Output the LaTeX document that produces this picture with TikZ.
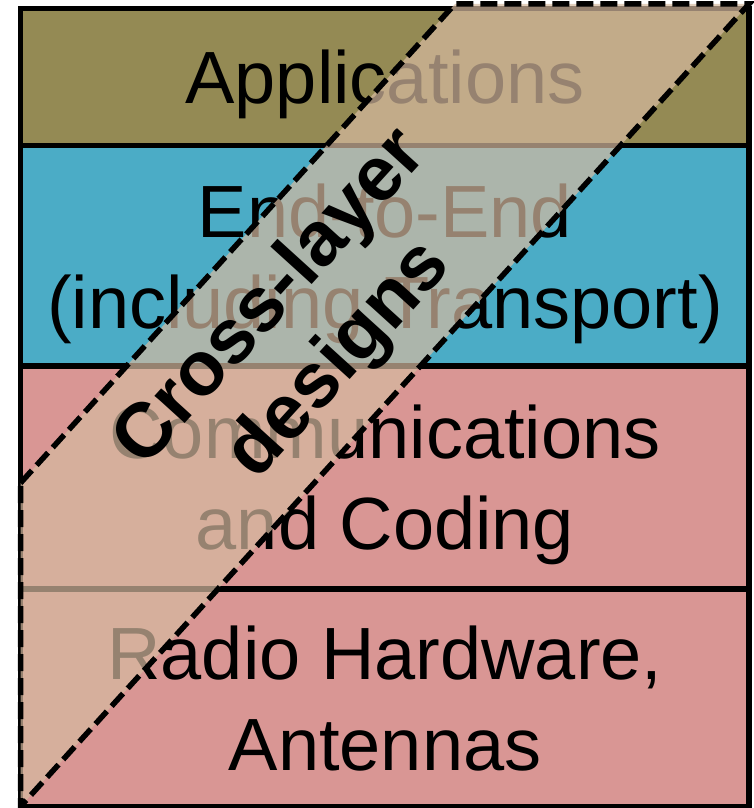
\documentclass[tikz,border=0pt]{standalone}
\usepackage{fontspec}
\setmainfont{Liberation Sans}
\usepackage{xcolor}
\definecolor{Olive Layer}{HTML}{948A54}
\colorlet{cOlive}{Olive Layer}
\definecolor{Sky Layer}{HTML}{4BACC6}
\colorlet{cBlue}{Sky Layer}
\definecolor{Rose Layer}{HTML}{D99694}
\colorlet{cRose}{Rose Layer}
\definecolor{Tan Band}{HTML}{D6BAA0}
\colorlet{cTan}{Tan Band}
\usepackage{tikz}
\usetikzlibrary{positioning}
\tikzset{
	layer/.style={
		fill=#1
	},
	frame/.style={
		draw,
		line width=5.5pt
	},
	layertext/.style={
		anchor=base,
		inner sep=0pt,
		font=\fontsize{74}{91}\selectfont
	},
	band/.style={
		fill=cTan,
		fill opacity=.7
	},
	bandedge/.style={
		draw,
		line width=5.5pt,
		dash pattern=on 17pt off 7pt
	},
	bandtext/.style={
		align=center,
		rotate=47.74,
		inner sep=0pt,
		font=\bfseries\fontsize{77}{92}\selectfont
	}
}

\begin{document}
\begin{tikzpicture}[x=1pt, y=-1pt]
        \useasboundingbox (0,0) rectangle (753,808);
        % the four layers
        \fill[layer=cOlive] (20.5,8.5) rectangle (749,145.5);
        \fill[layer=cBlue] (20.5,145.5) rectangle (749,366);
        \fill[layer=cRose] (20.5,366) rectangle (749,806.5);
        \node[layertext] (apps) at (385,103) {Applications};
        \node[layertext] (endA) at (385,237) {End-to-End};
        \node[layertext, below=91pt of endA.base, anchor=base] (endB) {(including Transport)};
        \node[layertext] (commA) at (385,458.5) {Communications};
        \node[layertext, below=91pt of commA.base, anchor=base] (commB) {and Coding};
        \node[layertext] (radioA) at (385,679) {Radio Hardware,};
        \node[layertext, below=91pt of radioA.base, anchor=base] (radioB) {Antennas};
        \draw[frame] (20.5,8.5) rectangle (749,806.5)
            (20.5,145.5) -- (749,145.5)
            (20.5,366) -- (749,366)
            (20.5,589) -- (749,589);
        % the cross-layer band
        \coordinate (bl) at (20.5,483);
        \coordinate (tl) at (455,4);
        \coordinate (tr) at (749,4);
        \coordinate (br) at (20.5,806.5);
        \fill[band] (bl) -- (tl) -- (tr) -- (br) -- cycle;
        \draw[bandedge] (bl) -- (tl) -- (tr) -- (br) -- cycle;
        \node[bandtext] (cross) at (306,330) {Cross-layer\\designs};
    \end{tikzpicture}
\end{document}
